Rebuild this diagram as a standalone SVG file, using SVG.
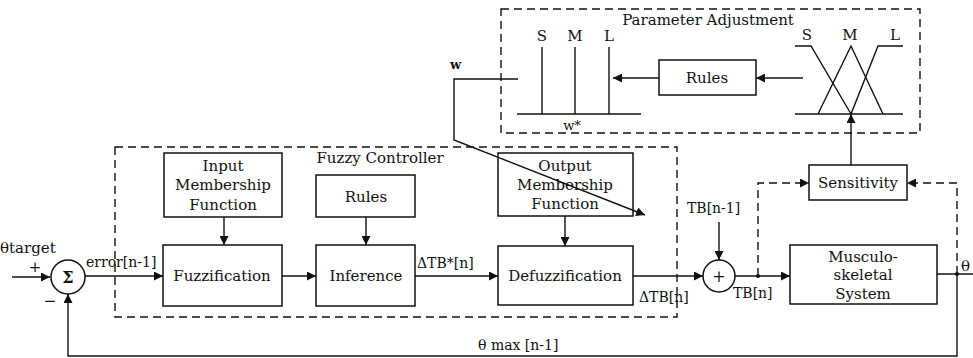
<svg xmlns="http://www.w3.org/2000/svg" width="973" height="358" viewBox="0 0 973 358">
<style>
  text { font-family: "DejaVu Serif", "Liberation Serif", serif; font-size: 15px; fill: #111; }
  .c { text-anchor: middle; }
  .box { fill: #fff; stroke: #111; stroke-width: 1.5; }
  .ln { fill: none; stroke: #111; stroke-width: 1.4; }
  .dash { fill: none; stroke: #111; stroke-width: 1.4; stroke-dasharray: 8 5; }
</style>
<defs>
  <marker id="ar" viewBox="0 0 10 10" refX="10" refY="5" markerWidth="9" markerHeight="9" markerUnits="userSpaceOnUse" orient="auto">
    <path d="M0,0 L10,5 L0,10 z" fill="#111"/>
  </marker>
</defs>
<rect width="973" height="358" fill="#fff"/>

<!-- Containers -->
<g id="fuzzy-controller">
  <rect x="115" y="147" width="562" height="170" class="dash"/>
  <text x="380" y="163" class="c">Fuzzy Controller</text>
</g>
<g id="parameter-adjustment">
  <rect x="501" y="9" width="419" height="124" class="dash"/>
  <text x="708" y="25" class="c">Parameter Adjustment</text>
</g>

<!-- Summing junctions -->
<g id="sum-error">
  <circle cx="68" cy="277" r="17" class="box"/>
  <text x="68" y="283" class="c" style="font-size:16px;font-weight:bold">Σ</text>
</g>
<g id="sum-tb">
  <circle cx="719" cy="276" r="16" class="box"/>
  <text x="719" y="282" class="c" style="font-size:16px">+</text>
</g>

<!-- Blocks -->
<g id="input-mf">
  <rect x="164" y="153" width="118" height="64" class="box"/>
  <text x="223" y="171" class="c">Input</text>
  <text x="223" y="190" class="c">Membership</text>
  <text x="223" y="210" class="c">Function</text>
</g>
<g id="rules-fc">
  <rect x="316" y="175" width="99" height="42" class="box"/>
  <text x="366" y="202" class="c">Rules</text>
</g>
<g id="output-mf">
  <rect x="498" y="153" width="135" height="63" class="box"/>
  <text x="565" y="171" class="c">Output</text>
  <text x="565" y="190" class="c">Membership</text>
  <text x="565" y="209" class="c">Function</text>
</g>
<g id="fuzzification">
  <rect x="163" y="245" width="119" height="61" class="box"/>
  <text x="222" y="281" class="c">Fuzzification</text>
</g>
<g id="inference">
  <rect x="316" y="245" width="99" height="61" class="box"/>
  <text x="366" y="281" class="c">Inference</text>
</g>
<g id="defuzzification">
  <rect x="498" y="246" width="135" height="59" class="box"/>
  <text x="565" y="281" class="c">Defuzzification</text>
</g>
<g id="musculoskeletal">
  <rect x="790" y="245" width="147" height="59" class="box"/>
  <text x="863" y="262" class="c">Musculo-</text>
  <text x="863" y="280" class="c">skeletal</text>
  <text x="863" y="299" class="c">System</text>
</g>
<g id="sensitivity">
  <rect x="809" y="165" width="98" height="35" class="box"/>
  <text x="858" y="188" class="c">Sensitivity</text>
</g>
<g id="rules-pa">
  <rect x="659" y="60" width="97" height="35" class="box"/>
  <text x="707" y="83" class="c">Rules</text>
</g>

<!-- Output singletons -->
<g id="singletons">
  <line x1="517" y1="114" x2="641" y2="114" class="ln"/>
  <line x1="542" y1="47" x2="542" y2="114" class="ln"/>
  <line x1="575" y1="47" x2="575" y2="114" class="ln"/>
  <line x1="609" y1="47" x2="609" y2="114" class="ln"/>
  <text x="542" y="41" class="c">S</text>
  <text x="575" y="41" class="c">M</text>
  <text x="609" y="41" class="c">L</text>
  <text x="572" y="130" class="c" style="font-size:13px">w*</text>
</g>

<!-- Triangular membership functions -->
<g id="triangles">
  <line x1="795" y1="114" x2="903" y2="114" class="ln"/>
  <polyline points="795,46 811,46 851,114" class="ln"/>
  <polyline points="818,114 851,46 883,114" class="ln"/>
  <polyline points="851,114 878,46 903,46" class="ln"/>
  <text x="807" y="40" class="c">S</text>
  <text x="850" y="40" class="c">M</text>
  <text x="895" y="40" class="c">L</text>
</g>

<!-- Connectors -->
<g id="connectors">
  <line x1="12" y1="277" x2="50" y2="277" class="ln" marker-end="url(#ar)"/>
  <line x1="85" y1="276" x2="163" y2="276" class="ln" marker-end="url(#ar)"/>
  <line x1="224" y1="217" x2="224" y2="245" class="ln" marker-end="url(#ar)"/>
  <line x1="366" y1="217" x2="366" y2="245" class="ln" marker-end="url(#ar)"/>
  <line x1="282" y1="276" x2="316" y2="276" class="ln" marker-end="url(#ar)"/>
  <line x1="415" y1="276" x2="498" y2="276" class="ln" marker-end="url(#ar)"/>
  <line x1="565" y1="216" x2="565" y2="246" class="ln" marker-end="url(#ar)"/>
  <line x1="633" y1="276" x2="703" y2="276" class="ln" marker-end="url(#ar)"/>
  <line x1="719" y1="222" x2="719" y2="260" class="ln" marker-end="url(#ar)"/>
  <line x1="735" y1="276" x2="790" y2="276" class="ln" marker-end="url(#ar)"/>
  <circle cx="758" cy="276" r="2" fill="#111"/>
  <polyline points="758,276 758,183 809,183" class="dash" marker-end="url(#ar)"/>
  <line x1="937" y1="274" x2="973" y2="274" class="ln"/>
  <circle cx="957" cy="274" r="2" fill="#111"/>
  <polyline points="957,274 957,183 907,183" class="dash" marker-end="url(#ar)"/>
  <polyline points="957,274 957,356 68,356 68,294" class="ln" marker-end="url(#ar)"/>
  <line x1="851" y1="165" x2="851" y2="114" class="ln" marker-end="url(#ar)"/>
  <line x1="803" y1="78" x2="756" y2="78" class="ln" marker-end="url(#ar)"/>
  <line x1="659" y1="78" x2="613" y2="78" class="ln" marker-end="url(#ar)"/>
  <polyline points="518,79 454,79 454,140 645,215" class="ln" marker-end="url(#ar)"/>
</g>

<!-- Labels -->
<g id="labels">
  <text x="0" y="253" style="font-size:15px">θtarget</text>
  <text x="35" y="272" class="c">+</text>
  <text x="50" y="306" class="c">−</text>
  <text x="86" y="267" style="font-size:14px">error[n-1]</text>
  <text x="417" y="268" style="font-size:14px">ΔTB*[n]</text>
  <text x="639" y="302" style="font-size:14px">ΔTB[n]</text>
  <text x="687" y="213" style="font-size:14px">TB[n-1]</text>
  <text x="733" y="298" style="font-size:14px">TB[n]</text>
  <text x="961" y="271" style="font-size:15px">θ</text>
  <text x="478" y="350" style="font-size:14px">θ max [n-1]</text>
  <text x="450" y="69" style="font-size:13px;font-weight:bold">w</text>
</g>
</svg>
